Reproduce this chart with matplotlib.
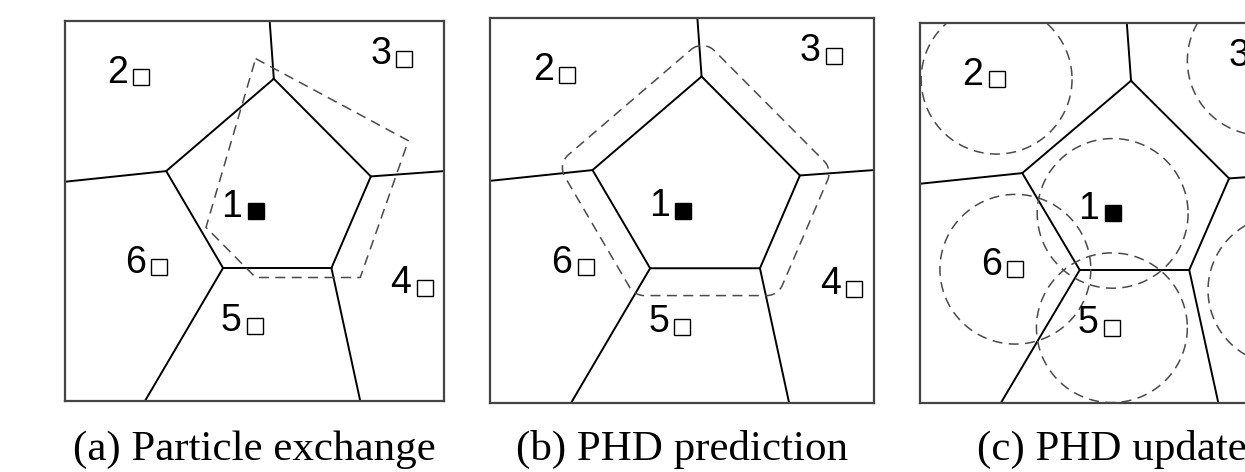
import numpy as np
import matplotlib
matplotlib.use('Agg')
import matplotlib.pyplot as plt

plt.rcParams['lines.scale_dashes'] = False

# Voronoi cell of sensor 1 (pentagon), box coords 0..1, v measured from the top
PENT_U = [0.551, 0.807, 0.703, 0.417, 0.267]
PENT_V = [0.152, 0.409, 0.650, 0.650, 0.395]
# where the outer cell borders leave each pentagon corner (on the box edge)
SPOKE_U = [0.540, 1.000, 0.779, 0.211, 0.000]
SPOKE_V = [0.000, 0.395, 1.000, 1.000, 0.423]

# sensors
SENSOR_LABELS = ['1', '2', '3', '4', '5', '6']
SENSOR_U = [0.503, 0.200, 0.895, 0.949, 0.501, 0.249]
SENSOR_V = [0.501, 0.148, 0.099, 0.703, 0.802, 0.648]

# (a) particle exchange region
EXCH_U = [0.503, 0.906, 0.779, 0.503, 0.372]
EXCH_V = [0.099, 0.315, 0.675, 0.675, 0.543]

# (b) prediction band around cell 1
PRED_OFFSET = 0.071
PRED_CORNER = 0.045

# (c) update radius around each sensor
UPDATE_RADIUS = 0.197

CAPTIONS = ['(a) Particle exchange', '(b) PHD prediction', '(c) PHD update']

DASH = dict(color='#4a4a4a', lw=1.1, dashes=(7.2, 4.6))


def rounded_offset(u, v, d, r, n=20):
    p = np.column_stack([u, v])
    c = p.mean(axis=0)
    k = len(p)
    # offset each edge outward by d
    lines = []
    for i in range(k):
        a, b = p[i], p[(i + 1) % k]
        t = (b - a) / np.linalg.norm(b - a)
        nrm = np.array([t[1], -t[0]])
        if np.dot(nrm, (a + b) / 2 - c) < 0:
            nrm = -nrm
        lines.append((a + nrm * d, t))
    pts = []
    for i in range(k):
        a0, t0 = lines[i - 1]
        a1, t1 = lines[i]
        # miter point
        s = np.linalg.solve(np.column_stack([t0, -t1]), a1 - a0)
        m = a0 + t0 * s[0]
        # round the corner with radius r
        e0 = -t0
        e1 = t1
        ang = np.arccos(np.clip(np.dot(e0, e1), -1, 1))
        q0 = m + e0 * r / np.tan(ang / 2)
        q1 = m + e1 * r / np.tan(ang / 2)
        bis = (e0 + e1) / np.linalg.norm(e0 + e1)
        ctr = m + bis * r / np.sin(ang / 2)
        a_start = np.arctan2(*(q0 - ctr)[::-1])
        a_end = np.arctan2(*(q1 - ctr)[::-1])
        da = (a_end - a_start + np.pi) % (2 * np.pi) - np.pi
        for th in np.linspace(a_start, a_start + da, n):
            pts.append(ctr + r * np.array([np.cos(th), np.sin(th)]))
    pts.append(pts[0])
    pts = np.array(pts)
    return pts[:, 0], pts[:, 1]


def draw_cells(ax):
    ax.plot(PENT_U + PENT_U[:1], PENT_V + PENT_V[:1], color='black', lw=1.4,
            solid_joinstyle='miter')
    for pu, pv, su, sv in zip(PENT_U, PENT_V, SPOKE_U, SPOKE_V):
        ax.plot([pu, su], [pv, sv], color='black', lw=1.4)
    for i, (lab, su, sv) in enumerate(zip(SENSOR_LABELS, SENSOR_U, SENSOR_V)):
        face = 'black' if i == 0 else 'white'
        ax.plot(su, sv, marker='s', ms=11.5, mfc=face, mec='black', mew=1.0,
                zorder=4)
        ax.annotate(lab, (su, sv), xytext=(-9.5, -3.8), textcoords='offset points',
                    ha='right', va='baseline', fontsize=27,
                    family='Liberation Sans', zorder=4, annotation_clip=True)


fig = plt.figure(figsize=(12.45, 4.72), dpi=100)
boxes = [
    [65 / 1245, 71 / 472, 379 / 1245, 380 / 472],
    [490 / 1245, 69 / 472, 384 / 1245, 385 / 472],
    [920 / 1245, 69 / 472, 383 / 1245, 380 / 472],
]
axes = [fig.add_axes(b) for b in boxes]

for ax, cap in zip(axes, CAPTIONS):
    ax.set_xlim(0, 1)
    ax.set_ylim(1, 0)
    ax.set_xticks([])
    ax.set_yticks([])
    for s in ax.spines.values():
        s.set_color('#444444')
        s.set_linewidth(1.6)
    draw_cells(ax)
    pos = ax.get_position()
    fig.text((pos.x0 + pos.x1) / 2, 12 / 472, cap, ha='center', va='baseline',
             fontsize=31, family='Liberation Serif')

# (a)
axes[0].plot(EXCH_U + EXCH_U[:1], EXCH_V + EXCH_V[:1], **DASH)

# (b)
bu, bv = rounded_offset(PENT_U, PENT_V, PRED_OFFSET, PRED_CORNER)
axes[1].plot(bu, bv, **DASH)

# (c)
th = np.linspace(0, 2 * np.pi, 200)
for su, sv in zip(SENSOR_U, SENSOR_V):
    axes[2].plot(su + UPDATE_RADIUS * np.cos(th), sv + UPDATE_RADIUS * np.sin(th),
                 **DASH)

fig.savefig('out.png', dpi=100)
